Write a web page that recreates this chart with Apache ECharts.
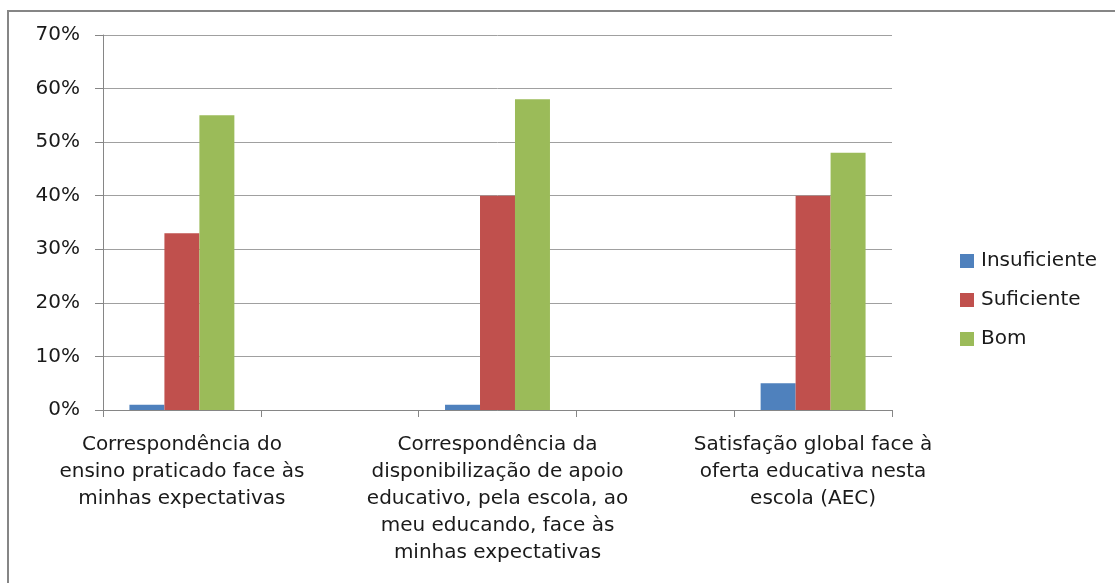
<!DOCTYPE html>
<html>
<head>
<meta charset="utf-8">
<script src="https://cdn.jsdelivr.net/npm/echarts@6/dist/echarts.min.js"></script>
<style>html,body{margin:0;padding:0;background:#fff}#c{width:1115px;height:583px}</style>
</head>
<body>
<div id="c"></div>
<script>
const categories = [
  "Correspondência do\nensino praticado face às\nminhas expectativas",
  "",
  "Correspondência da\ndisponibilização de apoio\neducativo, pela escola, ao\nmeu educando, face às\nminhas expectativas",
  "",
  "Satisfação global face à\noferta educativa nesta\nescola (AEC)"
];
const seriesNames = ["Insuficiente", "Suficiente", "Bom"];
const insuficiente = [1, null, 1, null, 5];
const suficiente = [33, null, 40, null, 40];
const bom = [55, null, 58, null, 48];
const yTicks = [0, 10, 20, 30, 40, 50, 60, 70];

const colors = ["#4F81BD", "#C0504D", "#9BBB59"];
const font = "DejaVu Sans";
const chart = echarts.init(document.getElementById('c'), null, {renderer: 'canvas'});
chart.setOption({
  animation: false,
  backgroundColor: '#fff',
  color: colors,
  grid: {left: 103, right: 223, top: 35, bottom: 173, containLabel: false},
  legend: {
    orient: 'vertical',
    left: 955, top: 246,
    itemWidth: 14, itemHeight: 14,
    itemGap: 19,
    icon: 'rect',
    textStyle: {fontFamily: font, fontSize: 20, color: '#1a1a1a', padding: [0,0,0,2]},
    data: seriesNames
  },
  xAxis: {
    type: 'category',
    data: categories,
    axisLine: {lineStyle: {color: '#868686', width: 1}},
    axisTick: {show: true, length: 7, alignWithLabel: false, interval: 0, lineStyle: {color: '#868686'}},
    axisLabel: {interval: 0, margin: 21, fontFamily: font, fontSize: 20, lineHeight: 27, color: '#1a1a1a', align: 'center'}
  },
  yAxis: {
    type: 'value',
    min: 0, max: 70, interval: 10,
    axisLine: {show: true, lineStyle: {color: '#868686'}},
    axisTick: {show: true, length: 8, lineStyle: {color: '#868686'}},
    splitLine: {show: true, lineStyle: {color: '#a0a0a0', width: 1}},
    axisLabel: {margin: 23, fontFamily: font, fontSize: 20, color: '#1a1a1a',
      formatter: v => yTicks.includes(v) ? v + '%' : ''}
  },
  series: [
    {name: seriesNames[0], type: 'bar', data: insuficiente, barGap: '0%', barCategoryGap: '33.5%'},
    {name: seriesNames[1], type: 'bar', data: suficiente, barGap: '0%', barCategoryGap: '33.5%'},
    {name: seriesNames[2], type: 'bar', data: bom, barGap: '0%', barCategoryGap: '33.5%'}
  ],
  graphic: [{
    type: 'polyline',
    shape: {points: [[8, 583], [8, 11], [1115, 11]]},
    style: {stroke: '#868686', lineWidth: 2, fill: null}
  }]
});
</script>
</body>
</html>
